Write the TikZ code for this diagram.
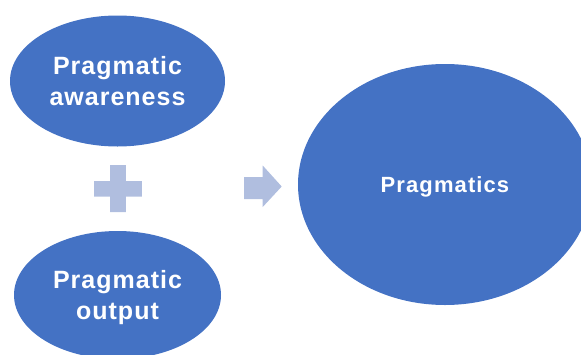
\documentclass[tikz,border=0pt]{standalone}
\usepackage{fontspec}
\setmainfont{Liberation Sans}
\usetikzlibrary{shapes.geometric}
\definecolor{ovalblue}{HTML}{4472C4}
\definecolor{lightblue}{HTML}{B0BEDF}
\tikzset{
  oval/.style={ellipse, fill=ovalblue, draw=none, inner sep=0pt, text=white, align=center,
    font=\fontsize{25}{31}\selectfont\bfseries\addfontfeature{LetterSpace=4}},
  signshape/.style={fill=lightblue, draw=none}
}
\begin{document}
\begin{tikzpicture}[x=1pt,y=-1pt]
\useasboundingbox (0,0) rectangle (581,354);
\clip (0,0) rectangle (581,354);
\node[oval, minimum width=215pt, minimum height=131pt] (aware) at (117.5,81) {Pragmatic\\awareness};
\node[oval, minimum width=207pt, minimum height=128pt, text depth=0pt] (output) at (117.5,295) {Pragmatic\\output};
\node[oval, minimum width=294pt, minimum height=241pt, text depth=0pt,
  font=\fontsize{22}{25}\selectfont\bfseries\addfontfeature{LetterSpace=5}] (prag) at (445,184.5) {Pragmatics};
\fill[signshape] (110.2,165) -- (125.8,165) -- (125.8,181.2) -- (141.8,181.2) -- (141.8,196.6)
  -- (125.8,196.6) -- (125.8,212) -- (110.2,212) -- (110.2,196.6) -- (94.2,196.6)
  -- (94.2,181.2) -- (110.2,181.2) -- cycle;
\fill[signshape] (244,177) -- (262.7,177) -- (262.7,165.5) -- (281.7,186.5) -- (262.7,207)
  -- (262.7,199) -- (244,199) -- cycle;
\end{tikzpicture}
\end{document}
